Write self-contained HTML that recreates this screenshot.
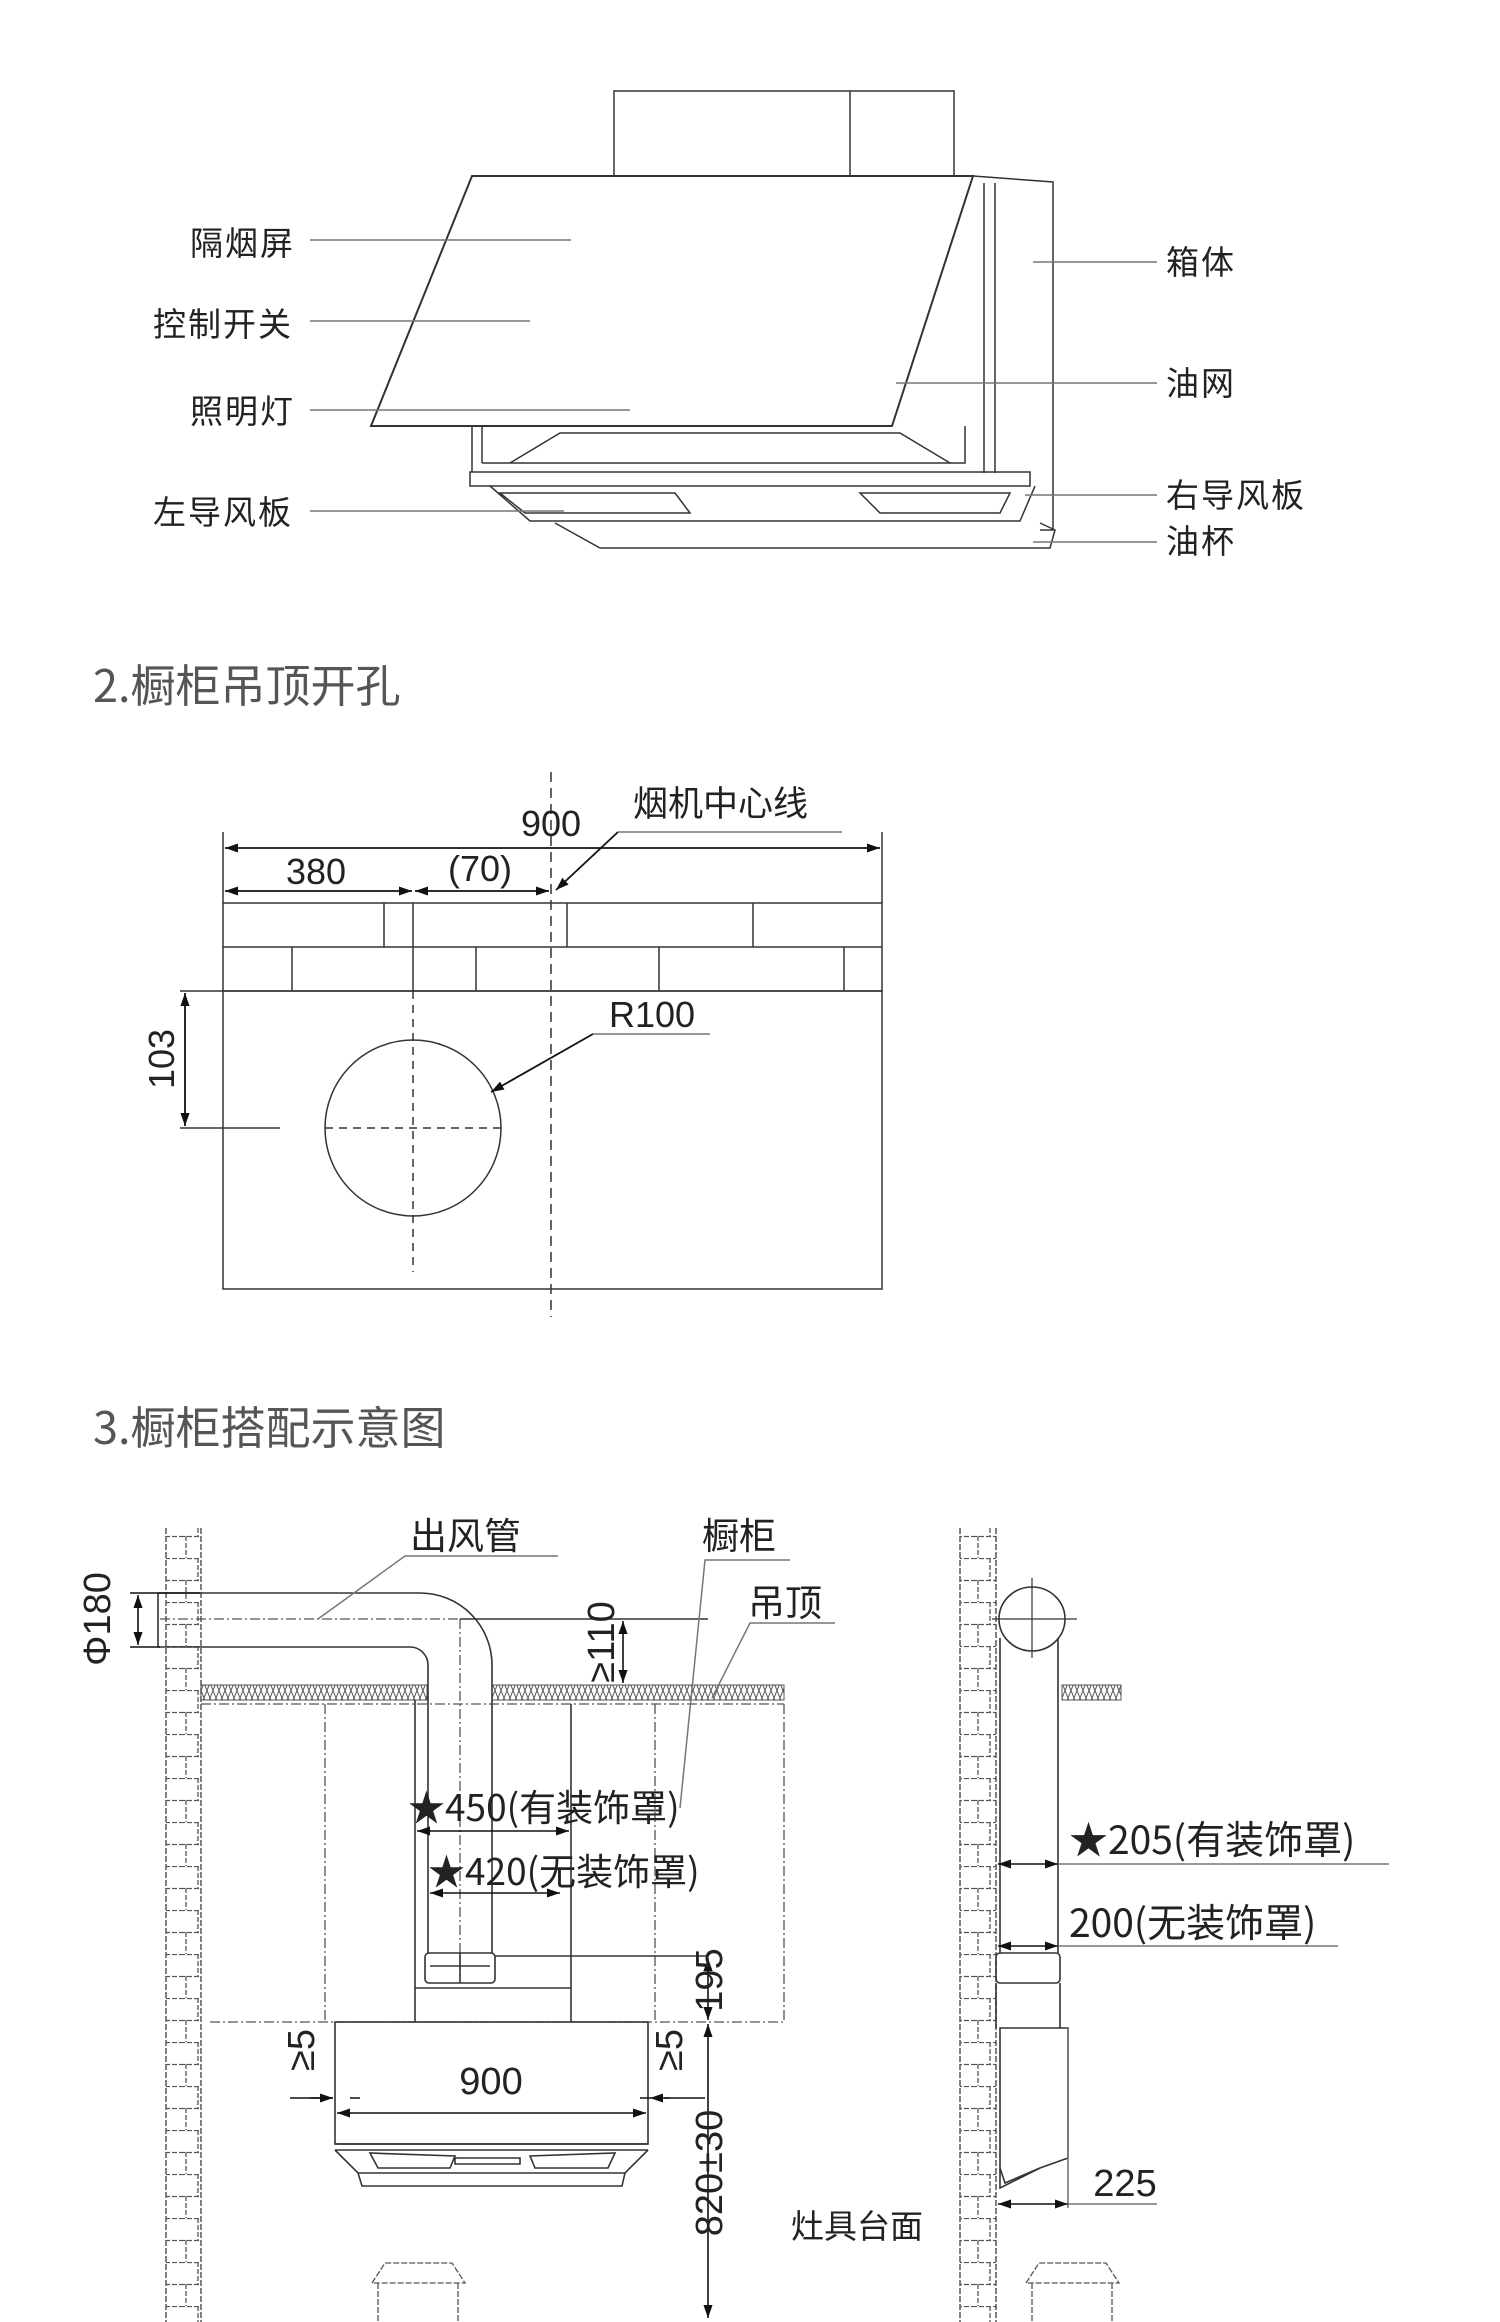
<!DOCTYPE html>
<html><head><meta charset="utf-8"><style>
html,body{margin:0;padding:0;background:#fff}
svg{display:block}
text{font-family:"Liberation Sans","Noto Sans CJK SC",sans-serif;fill:#222}
.cn{font-family:"Noto Sans CJK SC","WenQuanYi Zen Hei",sans-serif}
</style></head><body>
<svg width="1500" height="2322" viewBox="0 0 1500 2322" xmlns="http://www.w3.org/2000/svg">
<defs>
<marker id="a" viewBox="0 0 10 10" refX="10" refY="5" markerWidth="13" markerHeight="13" orient="auto-start-reverse" markerUnits="userSpaceOnUse"><path d="M0,1.5 L10,5 L0,8.5z" fill="#111"/></marker>
<pattern id="brick" width="36" height="44" patternUnits="userSpaceOnUse">
<path d="M0,0.5H36M0,22.5H36M18,0V22M6,22V44" stroke="#555" stroke-width="1.3" stroke-dasharray="5,2" fill="none"/>
</pattern>
<pattern id="hatch" width="12" height="15" patternUnits="userSpaceOnUse">
<path d="M0,0L6,15L12,0M0,15L6,0L12,15" stroke="#555" stroke-width="1" fill="none"/>
</pattern>
</defs>

<!-- Section 1 -->
<g transform="translate(0,3)">
<g stroke="#333" stroke-width="1.5" fill="none">
<rect x="614" y="88" width="340" height="85"/>
<line x1="850" y1="88" x2="850" y2="173"/>
<path d="M973,173 L1053,179 L1053,527 L1040,527"/>
<line x1="984" y1="180" x2="984" y2="470"/>
<line x1="995" y1="180" x2="995" y2="470"/>
<path d="M472,423 L472,469 M482,423 L482,460 M482,460 L965,460 L965,423"/>
<path d="M510,460 L560,430 L900,430 L950,460"/>
<path d="M470,469 L1030,469 L1030,483 L470,483 Z"/>
<path d="M490,483 L530,518 L1020,518 L1035,483"/>
<path d="M500,490 L525,510 L690,510 L675,490 Z"/>
<path d="M860,490 L880,510 L1000,510 L1010,490 Z"/>
<path d="M555,520 L600,545 L1050,545 L1055,527 L1040,520"/>
<path d="M472,173 L973,173 L892,423 L371,423 Z" fill="#fff" stroke-width="2"/>
</g>
<g stroke="#777" stroke-width="1.5">
<line x1="310" y1="237" x2="571" y2="237"/>
<line x1="310" y1="318" x2="530" y2="318"/>
<line x1="310" y1="407" x2="630" y2="407"/>
<line x1="310" y1="508" x2="564" y2="508"/>
<line x1="1033" y1="259" x2="1157" y2="259"/>
<line x1="896" y1="380" x2="1157" y2="380"/>
<line x1="1025" y1="492" x2="1157" y2="492"/>
<line x1="1033" y1="539" x2="1157" y2="539"/>
</g>
<g class="cn" font-size="33" style="letter-spacing:2px">
<text x="190" y="252" class="cn">隔烟屏</text>
<text x="153" y="333" class="cn">控制开关</text>
<text x="190" y="420" class="cn">照明灯</text>
<text x="153" y="521" class="cn">左导风板</text>
<text x="1166" y="271" class="cn">箱体</text>
<text x="1166" y="392" class="cn">油网</text>
<text x="1166" y="504" class="cn">右导风板</text>
<text x="1166" y="550" class="cn">油杯</text>
</g>
</g>

<!-- Section 2 -->
<g transform="translate(0,12)">
<text x="93" y="690" font-size="45" class="cn" style="fill:#555">2.橱柜吊顶开孔</text>
<g stroke="#333" stroke-width="1.5" fill="none">
<rect x="223" y="891" width="659" height="88"/>
<line x1="223" y1="935" x2="882" y2="935"/>
<rect x="223" y="979" width="659" height="298"/>
<path d="M384,891V935M567,891V935M753,891V935M292,935V979M476,935V979M659,935V979M844,935V979"/>
<line x1="413" y1="891" x2="413" y2="979"/>
<path d="M413,979V1260M325,1116H501" stroke-dasharray="8,6"/>
<line x1="551" y1="760" x2="551" y2="1305" stroke-dasharray="10,6"/>
<circle cx="413" cy="1116" r="88"/>
<path d="M180,979H223M180,1116H280"/>
<path d="M223,820V891M882,820V891"/>
</g>
<g stroke="#111" stroke-width="1.8">
<line x1="225" y1="836" x2="880" y2="836" marker-start="url(#a)" marker-end="url(#a)"/>
<line x1="225" y1="879" x2="412" y2="879" marker-start="url(#a)" marker-end="url(#a)"/>
<line x1="415" y1="879" x2="549" y2="879" marker-start="url(#a)" marker-end="url(#a)"/>
<line x1="185" y1="981" x2="185" y2="1114" marker-start="url(#a)" marker-end="url(#a)"/>
<line x1="618" y1="820" x2="556" y2="878" marker-end="url(#a)"/>
<line x1="593" y1="1022" x2="491" y2="1080" marker-end="url(#a)"/>
</g>
<g stroke="#777" stroke-width="1.5"><line x1="618" y1="820" x2="842" y2="820"/><line x1="593" y1="1022" x2="710" y2="1022"/></g>
<g font-size="36">
<text x="551" y="824" text-anchor="middle">900</text>
<text x="316" y="872" text-anchor="middle">380</text>
<text x="480" y="869" text-anchor="middle">(70)</text>
<text x="609" y="1015">R100</text>
<text transform="translate(174,1047) rotate(-90)" text-anchor="middle">103</text>
</g>
<text x="633" y="804" font-size="35" class="cn">烟机中心线</text>
</g>

<!-- Section 3 -->
<g transform="translate(0,16)">
<text x="93" y="1428" font-size="45" class="cn" style="fill:#555">3.橱柜搭配示意图</text>
</g>
<g transform="translate(0,18)">
<rect x="166" y="1510" width="35" height="812" fill="url(#brick)"/>
<path d="M166,1510V2322M201,1510V2322" stroke="#555" stroke-width="1.5" stroke-dasharray="6,2"/>
<rect x="201" y="1667" width="226" height="15" fill="url(#hatch)" stroke="#555"/>
<rect x="492" y="1667" width="292" height="15" fill="url(#hatch)" stroke="#555"/>
<g stroke="#555" stroke-width="1.3" fill="none" stroke-dasharray="10,3,2,3">
<line x1="201" y1="1686" x2="784" y2="1686"/>
<line x1="325" y1="1686" x2="325" y2="2004"/>
<line x1="655" y1="1686" x2="655" y2="2004"/>
<line x1="784" y1="1686" x2="784" y2="2004"/>
<line x1="210" y1="2004" x2="784" y2="2004"/>
<line x1="160" y1="1601" x2="460" y2="1601"/>
<line x1="460" y1="1601" x2="460" y2="1960"/>
</g>
<g stroke="#333" stroke-width="1.6" fill="none">
<path d="M158,1575 H420 A72,72 0 0 1 492,1647 V1935"/>
<path d="M158,1629 H410 A18,18 0 0 1 428,1647 V1935"/>
<path d="M158,1575V1629"/>
<line x1="415" y1="1682" x2="415" y2="2004"/>
<line x1="571" y1="1686" x2="571" y2="2004"/>
<rect x="425" y="1935" width="70" height="30" rx="4"/>
<path d="M430,1948H490M460,1935V1965"/>
<path d="M495,1938H708M415,1970H571"/>
<rect x="335" y="2004" width="313" height="122"/>
<path d="M335,2126H648M335,2132H648"/>
<path d="M335,2132 L358,2155 L625,2155 L648,2132"/>
<path d="M358,2155L362,2168H622L625,2155"/>
<path d="M370,2135L378,2150H450L455,2138Z M530,2138L535,2150H608L615,2135Z M455,2140H520V2146H455Z"/>
<line x1="460" y1="1601" x2="708" y2="1601"/>
</g>
<g stroke="#555" stroke-width="1.3" fill="none" stroke-dasharray="6,2">
<path d="M372,2265 L385,2245 H452 L465,2265 Z M378,2265V2322M458,2265V2322"/>
<path d="M1026,2265 L1039,2245 H1106 L1119,2265 Z M1032,2265V2322M1112,2265V2322"/>
</g>
<g stroke="#777" stroke-width="1.5" fill="none">
<path d="M318,1601 L405,1538 H558"/>
<path d="M680,1790 L705,1542 H790"/>
<path d="M712,1680 L750,1605 H835"/>
</g>
<g stroke="#111" stroke-width="1.6" fill="none">
<path d="M130,1575H200M130,1629H160"/>
<line x1="138" y1="1577" x2="138" y2="1627" marker-start="url(#a)" marker-end="url(#a)"/>
<line x1="623" y1="1603" x2="623" y2="1665" marker-start="url(#a)" marker-end="url(#a)"/>
<line x1="417" y1="1813" x2="569" y2="1813" marker-start="url(#a)" marker-end="url(#a)"/>
<line x1="430" y1="1875" x2="560" y2="1875" marker-start="url(#a)" marker-end="url(#a)"/>
<line x1="708" y1="1940" x2="708" y2="2002" marker-start="url(#a)" marker-end="url(#a)"/>
<line x1="708" y1="2006" x2="708" y2="2300" marker-start="url(#a)" marker-end="url(#a)"/>
<line x1="337" y1="2095" x2="646" y2="2095" marker-start="url(#a)" marker-end="url(#a)"/>
<path d="M290,2080H333M350,2080H360M640,2080H650M664,2080H705"/>
<line x1="310" y1="2080" x2="333" y2="2080" marker-end="url(#a)"/>
<line x1="670" y1="2080" x2="650" y2="2080" marker-end="url(#a)"/>
</g>
<g font-size="38">
<text x="491" y="2076" text-anchor="middle">900</text>
<text transform="translate(722,1962) rotate(-90)" text-anchor="middle">195</text>
<text transform="translate(722,2155) rotate(-90)" text-anchor="middle">820±30</text>
<text transform="translate(614,1624) rotate(-90)" text-anchor="middle">≥110</text>
<text transform="translate(110,1601) rotate(-90)" text-anchor="middle">Φ180</text>
<text transform="translate(314,2032) rotate(-90)" text-anchor="middle">≥5</text>
<text transform="translate(682,2032) rotate(-90)" text-anchor="middle">≥5</text>
</g>
<g font-size="37" class="cn">
<text x="410" y="1531" class="cn">出风管</text>
<text x="702" y="1531" class="cn">橱柜</text>
<text x="748" y="1598" class="cn">吊顶</text>
<text x="408" y="1803" class="cn">★450(有装饰罩)</text>
<text x="428" y="1867" class="cn">★420(无装饰罩)</text>
<text x="791" y="2220" class="cn" font-size="33">灶具台面</text>
<text x="1069" y="1836" class="cn" font-size="39">★205(有装饰罩)</text>
<text x="1069" y="1919" class="cn" font-size="39">200(无装饰罩)</text>
</g>
<rect x="960" y="1510" width="36" height="812" fill="url(#brick)"/>
<path d="M960,1510V2322M996,1510V2322" stroke="#555" stroke-width="1.5" stroke-dasharray="6,2"/>
<rect x="1062" y="1667" width="59" height="15" fill="url(#hatch)" stroke="#555"/>
<g stroke="#333" stroke-width="1.6" fill="none">
<ellipse cx="1032" cy="1601" rx="33" ry="32"/>
<path d="M992,1601H1077M1032,1560V1640" stroke-width="1.2"/>
<path d="M1000,1620V1935M1058,1620V1935"/>
<rect x="996" y="1935" width="64" height="30" rx="4"/>
<path d="M996,1965V2010M1060,1965V2010"/>
<path d="M1000,2010 H1068 V2140 L1040,2150 L1000,2170 Z"/>
<path d="M1000,2150 L1005,2165 L1040,2150"/>
<path d="M1068,2010V2190" stroke="#777"/>
</g>
<g stroke="#111" stroke-width="1.6">
<line x1="998" y1="1846" x2="1058" y2="1846" marker-start="url(#a)" marker-end="url(#a)"/>
<line x1="998" y1="1928" x2="1058" y2="1928" marker-start="url(#a)" marker-end="url(#a)"/>
<line x1="998" y1="2186" x2="1068" y2="2186" marker-start="url(#a)" marker-end="url(#a)"/>
</g>
<g stroke="#777" stroke-width="1.5">
<line x1="1058" y1="1846" x2="1389" y2="1846"/>
<line x1="1058" y1="1928" x2="1338" y2="1928"/>
<line x1="1068" y1="2186" x2="1157" y2="2186"/>
</g>
<text x="1125" y="2178" font-size="38" text-anchor="middle">225</text>
</g>
</svg>
</body></html>
